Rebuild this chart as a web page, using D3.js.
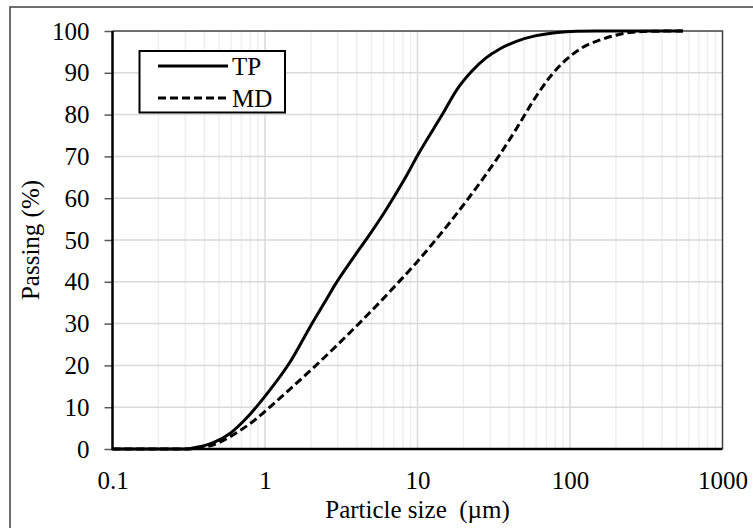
<!DOCTYPE html>
<html><head><meta charset="utf-8">
<script src="https://cdn.jsdelivr.net/npm/d3@7"></script>
<style>body{margin:0;background:#fff}svg{display:block}text{font-family:"Liberation Serif","Times New Roman",serif;fill:#000}</style>
</head><body><div id="chart"></div>
<script>
const tpSizes = [0.1,0.3,0.356,0.4,0.458,0.589,0.757,1.02,1.46,2.07,2.53,2.87,3.8,4.75,5.8,6.92,8.5,10,14.7,18,22.6,28,34.6,45,60,80,110,150,550];
const tpValues = [0,0,0.4,0.8,1.5,3.7,7.4,13,20.8,30.5,35.8,39.2,45.8,50.8,55.5,60,65.5,70.2,80.3,85.8,90.3,93.5,95.7,97.6,98.9,99.6,99.95,100,100];
const mdSizes = [0.1,0.3,0.35,0.4,0.46,0.53,0.685,0.8,1.0,1.385,2.1,3.02,4.0,5.9,7.6,9.8,12.6,16.3,21,26.9,34.6,45,57,75,94.7,120,156,200,256,350,550];
const mdValues = [0,0,0.1,0.45,1.0,2.0,4.4,6.1,9.0,13.6,19.6,25.1,29.5,35.8,40.1,44.5,49.2,54.2,59.4,64.7,70.4,76.9,83.1,89.3,93.2,96,97.8,99,99.7,99.95,100];
const xTicks = [0.1,1,10,100,1000];
const xTickLabels = ["0.1","1","10","100","1000"];
const yTicks = [0,10,20,30,40,50,60,70,80,90,100];
const seriesNames = ["TP","MD"];

const W=753,H=528;
const L=112.5,R=722.5,T=31,B=449;
const svg=d3.select("#chart").append("svg").attr("width",W).attr("height",H);
svg.append("rect").attr("x",10).attr("y",7).attr("width",800).attr("height",600).attr("fill","none").attr("stroke","#404040").attr("stroke-width",1.5);

const x=d3.scaleLog().domain([0.1,1000]).range([L,R]);
const y=d3.scaleLinear().domain([0,100]).range([B,T]);

const minor=[];
for(let e=-1;e<3;e++){for(let k=2;k<=9;k++){minor.push(k*Math.pow(10,e));}}
svg.append("g").selectAll("line").data(minor).join("line")
 .attr("x1",d=>x(d)).attr("x2",d=>x(d)).attr("y1",T).attr("y2",B)
 .attr("stroke","#efefef").attr("stroke-width",1.5);
svg.append("g").selectAll("line").data([1,10,100]).join("line")
 .attr("x1",d=>x(d)).attr("x2",d=>x(d)).attr("y1",T).attr("y2",B)
 .attr("stroke","#d9d9d9").attr("stroke-width",1.5);
svg.append("g").selectAll("line").data(yTicks.slice(1,-1)).join("line")
 .attr("x1",L).attr("x2",R).attr("y1",d=>y(d)).attr("y2",d=>y(d))
 .attr("stroke","#d9d9d9").attr("stroke-width",1.5);

svg.append("path").attr("d",`M${L},${T}H${R}V${B}`).attr("fill","none").attr("stroke","#404040").attr("stroke-width",1.5);

const line=d3.line().x(d=>x(d[0])).y(d=>y(d[1])).curve(d3.curveMonotoneX);
const tp=tpSizes.map((s,i)=>[s,tpValues[i]]);
const md=mdSizes.map((s,i)=>[s,mdValues[i]]);
svg.append("path").datum(md).attr("d",line).attr("fill","none").attr("stroke","#000").attr("stroke-width",3).attr("stroke-dasharray","8,4");
svg.append("path").datum(tp).attr("d",line).attr("fill","none").attr("stroke","#000").attr("stroke-width",3);

const ya=svg.append("g").attr("transform",`translate(${L},0)`)
 .call(d3.axisLeft(y).tickValues(yTicks).tickSize(8).tickPadding(15));
ya.select(".domain").remove();
ya.selectAll(".tick line").attr("stroke","#595959").attr("stroke-width",1.5);
ya.selectAll("text").attr("font-size",25).attr("font-family","Liberation Serif").attr("fill","#000");
const xa=svg.append("g").attr("transform",`translate(0,${B})`)
 .call(d3.axisBottom(x).tickValues(xTicks).tickFormat((d,i)=>xTickLabels[i]).tickSize(0).tickPadding(22));
xa.select(".domain").remove();
xa.selectAll("text").attr("font-size",25).attr("font-family","Liberation Serif").attr("fill","#000");

svg.append("path").attr("d",`M${L},${T}V${B}H${R}`).attr("fill","none").attr("stroke","#000").attr("stroke-width",2.5);

svg.append("text").attr("x",(L+R)/2).attr("y",518).attr("text-anchor","middle").attr("font-size",25)
 .style("white-space","pre").text("Particle size  (µm)");
svg.append("text").attr("transform",`translate(39,${(T+B)/2}) rotate(-90)`).attr("text-anchor","middle").attr("font-size",25).text("Passing (%)");

const lg=svg.append("g");
lg.append("rect").attr("x",139.5).attr("y",51).attr("width",145.5).attr("height",61.5).attr("fill","#fff").attr("stroke","#000").attr("stroke-width",2);
const ly=[66,98];
seriesNames.forEach((n,i)=>{
 lg.append("line").attr("x1",158).attr("x2",228).attr("y1",ly[i]).attr("y2",ly[i]).attr("stroke","#000").attr("stroke-width",3)
  .attr("stroke-dasharray",i===1?"8,4":null);
 lg.append("text").attr("x",232).attr("y",ly[i]).attr("dy","0.34em").attr("font-size",25).text(n);
});
</script></body></html>
